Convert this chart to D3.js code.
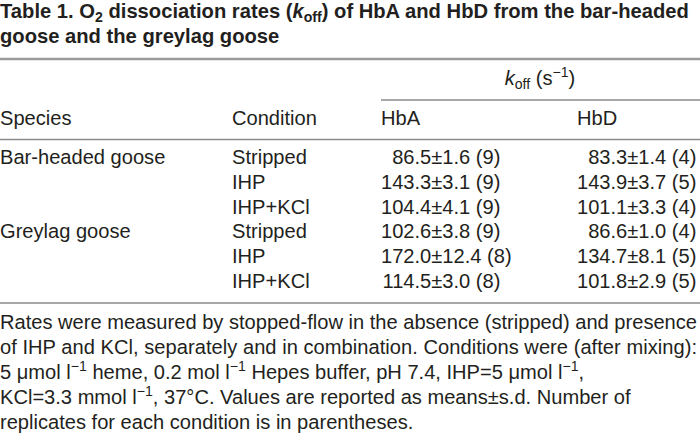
<!DOCTYPE html>
<html>
<head>
<meta charset="utf-8">
<script src="https://cdn.jsdelivr.net/npm/d3@7"></script>
<style>
  html, body { margin: 0; padding: 0; background: #fff; }
  svg { display: block; }
  text { font-family: "Liberation Sans", Arial, Helvetica, sans-serif; fill: #231f20; }
</style>
</head>
<body>
<svg id="chart" width="700" height="442"></svg>
<script>
// ---- data ----
const titleLines = [
  "Table 1. O_{2} dissociation rates (*k*_{off}) of HbA and HbD from the bar-headed",
  "goose and the greylag goose"
];
const spanHeader = "*k*_{off} (s^{−1})";
const columnHeaders = ["Species", "Condition", "HbA", "HbD"];
const species = ["Bar-headed goose", "", "", "Greylag goose", "", ""];
const conditions = ["Stripped", "IHP", "IHP+KCl", "Stripped", "IHP", "IHP+KCl"];
const hbaMean = ["86.5", "143.3", "104.4", "102.6", "172.0", "114.5"];
const hbaSD   = ["1.6", "3.1", "4.1", "3.8", "12.4", "3.0"];
const hbaN    = [9, 9, 9, 9, 8, 8];
const hbdMean = ["83.3", "143.9", "101.1", "86.6", "134.7", "101.8"];
const hbdSD   = ["1.4", "3.7", "3.3", "1.0", "8.1", "2.9"];
const hbdN    = [4, 5, 4, 4, 5, 5];
const footnoteLines = [
  "Rates were measured by stopped-flow in the absence (stripped) and presence",
  "of IHP and KCl, separately and in combination. Conditions were (after mixing):",
  "5 μmol l^{−1} heme, 0.2 mol l^{−1} Hepes buffer, pH 7.4, IHP=5 μmol l^{−1},",
  "KCl=3.3 mmol l^{−1}, 37°C. Values are reported as means±s.d. Number of",
  "replicates for each condition is in parentheses."
];
const justifiedLines = [0, 1];

// ---- layout ----
const W = 700;
const svg = d3.select("#chart");
const bodySize = 20.1;
const titleSize = 20.2;

function rich(sel, str) {
  const parts = str.split(/(\^\{[^}]*\}|_\{[^}]*\}|\*[^*]*\*)/).filter(s => s.length);
  let shift = 0;
  const fs = parseFloat(sel.attr("font-size"));
  parts.forEach(p => {
    let txt = p, size = null, italic = false, target = 0;
    if (p.startsWith("^{")) { txt = p.slice(2, -1); target = -0.4; size = "70%"; }
    else if (p.startsWith("_{")) { txt = p.slice(2, -1); target = 0.2; size = "70%"; }
    else if (p.startsWith("*")) { txt = p.slice(1, -1); italic = true; }
    const t = sel.append("tspan").text(txt);
    const newShift = target * fs;
    const d = newShift - shift;
    if (d !== 0) t.attr("dy", d);
    shift = newShift;
    if (size) t.attr("font-size", size);
    if (italic) t.attr("font-style", "italic");
  });
}

// title
const titleY = d3.scalePoint().domain(d3.range(titleLines.length)).range([18, 43]);
titleLines.forEach((line, i) => {
  const t = svg.append("text").attr("x", 0).attr("y", titleY(i))
    .attr("font-size", titleSize).attr("font-weight", "bold");
  rich(t, line);
});

// rules
const ruleColor = "#8a8a8a";
svg.append("line").attr("x1", 0).attr("x2", W).attr("y1", 59).attr("y2", 59)
  .attr("stroke", "#9a9a9a").attr("stroke-width", 2.5);

const colX = d3.scaleOrdinal().domain(columnHeaders).range([0, 232, 381, 577]);

// spanning header
const sh = svg.append("text").attr("x", 540).attr("y", 85)
  .attr("font-size", bodySize).attr("text-anchor", "middle");
rich(sh, spanHeader);
svg.append("line").attr("x1", colX("HbA")).attr("x2", W).attr("y1", 100).attr("y2", 100)
  .attr("stroke", ruleColor).attr("stroke-width", 1.5);

// column headers
svg.selectAll("text.colhead").data(columnHeaders).join("text")
  .attr("class", "colhead")
  .attr("x", d => colX(d)).attr("y", 125)
  .attr("font-size", bodySize).text(d => d);
svg.append("line").attr("x1", 0).attr("x2", W).attr("y1", 139.5).attr("y2", 139.5)
  .attr("stroke", ruleColor).attr("stroke-width", 1.5);

// rows
const rowY = d3.scalePoint().domain(d3.range(conditions.length)).range([164, 288]);

// measure width of widest mean to align on decimal point
const meas = svg.append("text").attr("font-size", bodySize).text("143.3");
const meanW = meas.node().getComputedTextLength();
meas.remove();

const rows = d3.range(conditions.length).map(i => ({
  i, species: species[i], cond: conditions[i],
  a: [hbaMean[i], hbaSD[i], hbaN[i]], d: [hbdMean[i], hbdSD[i], hbdN[i]]
}));

const g = svg.selectAll("g.row").data(rows).join("g").attr("class", "row")
  .attr("transform", d => `translate(0,${rowY(d.i)})`);
g.append("text").attr("x", colX("Species")).attr("font-size", bodySize).text(d => d.species);
g.append("text").attr("x", colX("Condition")).attr("font-size", bodySize).text(d => d.cond);
[["HbA", "a"], ["HbD", "d"]].forEach(([col, key]) => {
  const xEnd = colX(col) + meanW;
  g.append("text").attr("x", xEnd).attr("text-anchor", "end")
    .attr("font-size", bodySize).text(d => d[key][0]);
  g.append("text").attr("x", xEnd).attr("font-size", bodySize)
    .text(d => `±${d[key][1]} (${d[key][2]})`);
});

// bottom rule
svg.append("line").attr("x1", 0).attr("x2", W).attr("y1", 303).attr("y2", 303)
  .attr("stroke", ruleColor).attr("stroke-width", 1.5);

// footnote
const footY = d3.scalePoint().domain(d3.range(footnoteLines.length)).range([329, 429]);
footnoteLines.forEach((line, i) => {
  const t = svg.append("text").attr("x", 0).attr("y", footY(i)).attr("font-size", bodySize);
  if (justifiedLines.includes(i)) t.attr("textLength", 697).attr("lengthAdjust", "spacing");
  rich(t, line);
});
</script>
</body>
</html>
